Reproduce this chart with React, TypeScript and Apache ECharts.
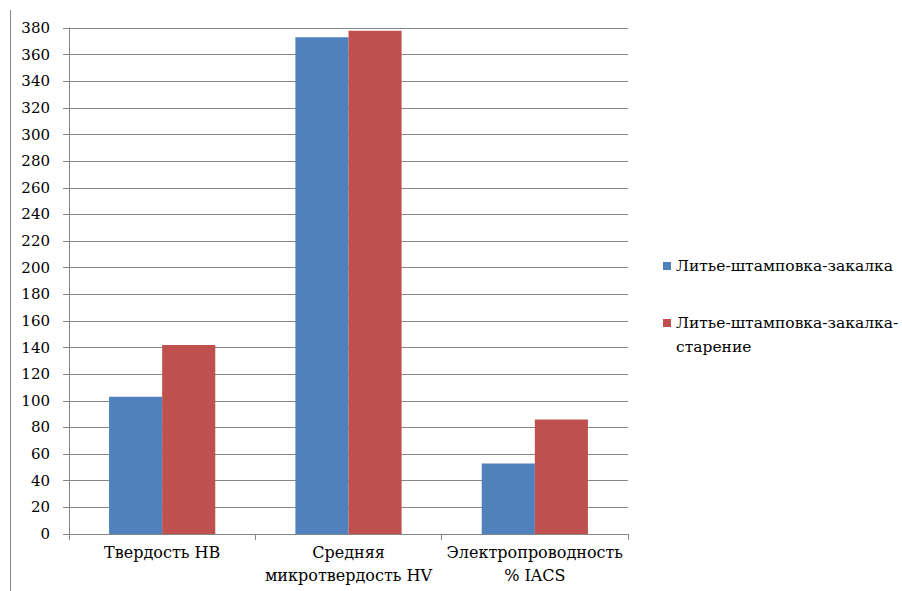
import React, { useEffect, useRef } from "react";
import * as echarts from "echarts";

const categories = ["Твердость HB", "Средняя\nмикротвердость HV", "Электропроводность\n% IACS"];
const seriesNames = ["Литье-штамповка-закалка", "Литье-штамповка-закалка-старение"];
const seriesQuenched = [103, 373, 53];
const seriesAged = [142, 378, 86];
const yMin = 0;
const yMax = 380;
const yStep = 20;

const FONT = "DejaVu Serif";

export default function App() {
  const ref = useRef<HTMLDivElement>(null);
  useEffect(() => {
    if (!ref.current) return;
    const chart = echarts.init(ref.current, undefined, { renderer: "svg" });
    chart.setOption({
      animation: false,
      backgroundColor: "#ffffff",
      textStyle: { fontFamily: FONT },
      grid: { left: 69, right: 274, top: 28, bottom: 57, containLabel: false },
      legend: [
        {
          data: [seriesNames[0]],
          orient: "vertical",
          left: 658,
          top: 253,
          itemWidth: 8,
          itemHeight: 8,
          icon: "rect",
          selectedMode: false,
          textStyle: { fontFamily: FONT, fontSize: 15.5, color: "#000" },
        },
        {
          data: [seriesNames[1]],
          orient: "vertical",
          left: 658,
          top: 282,
          itemWidth: 8,
          itemHeight: 8,
          icon: "rect",
          selectedMode: false,
          formatter: () => " \nЛитье-штамповка-закалка-\nстарение",
          textStyle: { fontFamily: FONT, fontSize: 15.5, color: "#000", lineHeight: 24 },
        },
      ],
      xAxis: {
        type: "category",
        data: categories,
        axisLine: { lineStyle: { color: "#868686" } },
        axisTick: { show: true, length: 6, alignWithLabel: false, lineStyle: { color: "#868686" } },
        axisLabel: { interval: 0, fontFamily: FONT, fontSize: 16, color: "#000", lineHeight: 23, margin: 7 },
      },
      yAxis: {
        type: "value",
        min: yMin,
        max: yMax,
        interval: yStep,
        axisLine: { show: true, lineStyle: { color: "#868686" } },
        axisTick: { show: true, length: 6, lineStyle: { color: "#868686" } },
        splitLine: { lineStyle: { color: "#868686" } },
        axisLabel: { fontFamily: FONT, fontSize: 15, color: "#000", margin: 19 },
      },
      series: [
        {
          name: seriesNames[0],
          type: "bar",
          data: seriesQuenched,
          itemStyle: { color: "#4F81BD" },
          barGap: "0%",
          barCategoryGap: "43%",
        },
        {
          name: seriesNames[1],
          type: "bar",
          data: seriesAged,
          itemStyle: { color: "#C0504D" },
          barGap: "0%",
          barCategoryGap: "43%",
        },
      ],
      graphic: [
        {
          type: "line",
          shape: { x1: 10.5, y1: 10, x2: 10.5, y2: 591 },
          style: { stroke: "#868686", lineWidth: 1 },
        },
      ],
    });
    return () => chart.dispose();
  }, []);
  return <div ref={ref} style={{ width: 902, height: 591, position: "absolute", left: 0, top: 0 }} />;
}
